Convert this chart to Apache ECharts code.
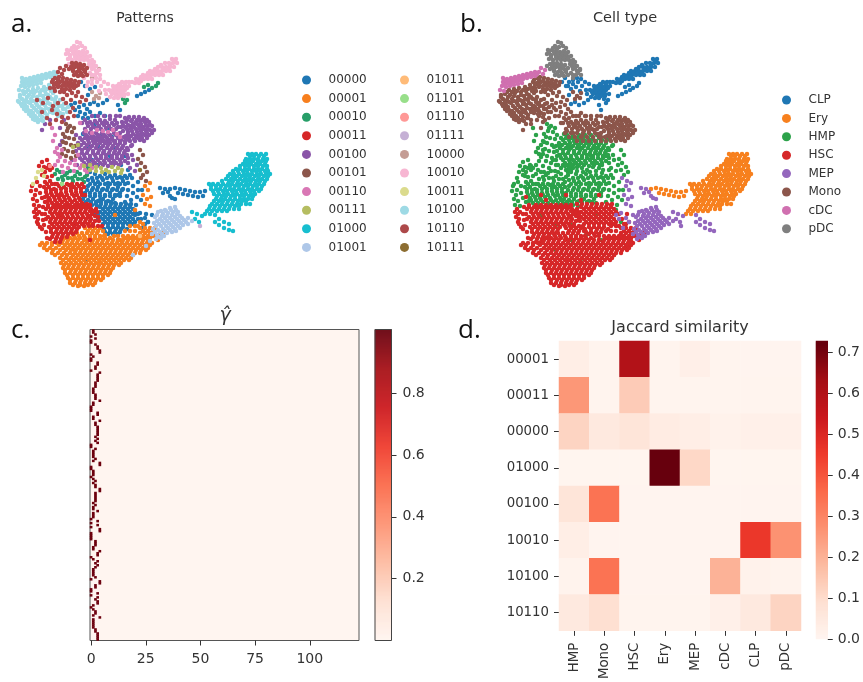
<!DOCTYPE html>
<html><head><meta charset="utf-8">
<style>html,body{margin:0;padding:0;background:#fff;overflow:hidden}#c{width:863px;height:682px}</style>
<script src="https://cdn.jsdelivr.net/npm/echarts@6/dist/echarts.min.js"></script>
</head><body><div id="c"></div>
<script>
const patterns=['00000','00001','00010','00011','00100','00101','00110','00111','01000','01001','01011','01101','01110','01111','10000','10010','10011','10100','10110','10111'];
const patternColors=['#1f77b4','#f77f1e','#279e68','#d62728','#8a55a8','#8c564b','#d977b5','#b5bd61','#17becf','#aec7e8','#ffbb78','#98df8a','#ff9896','#c5b0d5','#c49c94','#f7b6d2','#dbdb8d','#9edae5','#ad494a','#8c6d31'];
const cellTypes=['CLP','Ery','HMP','HSC','MEP','Mono','cDC','pDC'];
const cellColors=['#1f77b4','#f7801e','#2ca24a','#d62728','#9467bd','#8c564b','#d070b0','#7f7f7f'];

// UMAP cloud: arrays are named <cell type>_<pattern>, flat x,y pairs
const pDC_10010=[77,42,80,43,74,46,78,47,82,46,85,48,67,50,71,50,75,51,79,52,83,51,87,52,66,54,70,55,74,54,78,56,82,56,86,56,90,56,68,59,72,60,76,59,80,60,84,60,88,60,92,60,69,64,89,64,93,64,96,66,92,69,96,71,99,70,90,73,95,75,100,75,72,48,76,49,68,52,73,52,77,53,81,54,85,54,70,57,75,57,79,58,83,58,87,58,90,62,94,62,91,66,94,68,97,73,92,75];
const pDC_10110=[72,63,76,63,80,64,84,65,66,66,71,67,75,67,79,68,83,69,87,68,73,71,77,72,81,73,85,72,74,75,78,76,83,76,87,75,74,65,78,66,82,67,85,70,69,69,73,69,79,70,76,74,81,75];
const pDC_10000=[93,65,99,69,92,78];
const cDC_10100=[22,78,26,79,30,78,34,77,38,76,42,75,46,74,50,73,54,72,22,82,26,83,30,82,34,81,38,80,42,79,46,78,50,77,54,76,21,86,25,87,29,86,33,85,37,84,41,83,19,90,23,91,24,80,28,81,32,80,36,79,40,78,44,77,48,76,52,75,24,85,28,84,32,84,36,82,40,81,56,74];
const cDC_10110=[60,68,64,70,58,72,62,74];
const Mono_10100=[28,90,33,89,38,88,44,87,49,85,20,95,24,94,29,95,34,93,40,92,45,91,18,101,22,99,26,100,31,99,37,97,43,96,48,95,53,93,21,104,25,105,30,103,36,103,41,101,47,100,52,99,56,97,24,109,28,110,34,108,39,107,45,105,50,104,55,102,60,100,29,114,33,113,38,112,44,110,49,109,54,107,59,106,64,104,33,119,37,118,42,117,47,115,53,113,58,111,63,109,68,107,38,122,43,121,58,116,63,114,67,112,26,92,31,92,36,91,42,90,47,89,52,88,20,97,27,97,33,96,40,95,46,94,51,91,19,102,24,102,28,102,33,101,39,100,44,99,50,97,55,100,22,106,27,107,32,106,37,105,42,104,48,103,57,104,26,111,31,111,36,110,41,109,46,108,52,107,57,109,62,106,31,116,35,116,40,115,45,113,50,112,55,110,60,113,65,109,35,120,40,120,46,118];
const Mono_10110=[55,78,59,77,63,78,67,79,71,80,75,81,79,82,52,82,56,83,60,82,64,84,68,84,72,85,76,86,50,88,54,88,58,87,62,89,66,89,70,90,37,100,43,103,48,98,53,106,58,103,63,99,67,95,72,93,76,96,42,112,47,118,52,110,57,114,62,117,66,103,71,100,73,108,53,80,58,80,62,81,66,82,70,82,74,83,78,85,54,85,58,85,62,86,66,86,70,87,74,88,55,91,60,92,64,92,78,92,82,97,80,102,86,100,70,112,74,116,68,118,62,122,56,120,50,124];
const Mono_10000=[92,92,96,96,100,93,94,99,99,98];
const Mono_00100=[125,118,129,117,134,117,139,117,144,118,122,122,126,122,131,121,136,122,140,121,145,122,149,122,121,127,125,127,130,126,134,127,139,126,143,127,147,126,152,126,123,131,128,132,132,131,137,132,141,131,146,131,150,130,154,130,126,136,131,136,136,136,140,135,145,135,149,135,130,141,135,141,140,140,144,141,85,120,90,122,95,121,100,120,105,121,110,119,115,120,88,126,93,127,99,126,104,125,109,126,114,125,118,127,45,124,50,120,60,128,64,120,42,130,127,120,132,120,137,120,142,120,147,120,123,125,128,125,133,124,137,124,141,124,146,125,150,125,127,129,131,129,136,129,140,129,144,129,148,129,128,134,133,134,138,134,143,134,147,133,152,133,129,138,134,139,138,138,142,138,147,138,82,123,87,123,92,124,97,123,102,123,107,123,112,123,117,123,85,129,91,129,96,128,101,129,106,128,111,129,116,129,84,133,90,133,96,133,102,133,108,133,114,133,120,133,88,137,94,137,100,137,106,137,118,137,124,137,96,141,102,141,108,141,114,141,120,141,125,141,92,116,98,116,104,116,110,116,116,116,120,116];
const Mono_00110=[80,123,86,131,92,133,97,130,103,131,108,132,113,130,117,134,120,137];
const Mono_00000=[71,105,75,103,79,107,84,105,75,110,80,112,87,109,78,116,83,118,95,124,107,129,101,136,112,137,85,114,90,112,95,116,88,118,100,113,105,116];
const HMP_00110=[52,128,55,135,53,141,57,148,55,152,60,157,65,161,58,161,70,163,75,165,80,168,62,166,55,165,68,168,74,171,85,170,58,154,62,150,75,160,78,155,82,165,87,172,92,168,63,172];
const HMP_00101=[66,124,70,126,67,131,72,132,65,137,69,138,74,139,66,143,71,145,64,149,68,151,73,152,66,156,71,158,140,150,143,155,138,159,141,163,145,167,147,172,143,175,68,128,74,128,63,134,63,142,75,146,62,154,76,156];
const HMP_00100=[80,138,85,138,91,138,96,138,102,138,107,138,112,138,118,138,78,143,84,143,89,143,94,143,100,143,105,143,110,143,115,143,120,143,125,143,79,148,85,148,90,148,96,148,101,148,107,148,112,148,117,148,122,148,127,148,82,153,87,153,93,153,98,153,103,153,109,153,114,153,119,153,124,153,80,158,85,158,90,158,96,158,101,158,106,158,112,158,117,158,122,158,128,158,84,163,89,163,95,163,100,163,105,163,111,163,116,163,121,163,133,160,137,165,82,140,88,140,93,141,99,140,104,141,110,140,115,141,121,140,81,145,87,145,92,146,97,145,103,146,108,145,113,146,118,145,123,146,82,150,88,150,93,151,99,150,104,151,110,150,115,151,120,150,125,151,79,155,84,155,90,156,95,155,101,156,106,155,112,156,117,155,122,156,127,155,82,160,88,160,93,161,98,160,104,161,109,160,114,161,120,160,125,161,86,165,92,165,97,166,103,165,108,166,113,165,119,165,76,135,86,135,92,135,98,135,104,135,110,135,116,135,60,145,72,160,76,151,77,165,62,141,128,163,132,155,128,150,131,146,126,140,132,145,130,168,135,171];
const HMP_00111=[73,147,78,145,84,166,90,165,96,167,101,168,106,170,112,167,118,168,122,170,90,170,96,171,102,172,109,172,115,171,121,173];
const HMP_10011=[38,172,42,170,36,178,33,184,44,176];
const HMP_00010=[55,174,60,172,65,175,70,171,75,176,80,174,85,177,58,179,63,180,68,178,73,181,78,179,84,182,88,168,57,170,62,177,67,173,72,178,77,172,82,179,87,175];
const HMP_00011=[42,162,47,160,39,166,44,167,49,165,32,186,36,190,31,191,35,195,40,193,33,199,37,201,42,198,34,205,39,206,45,172,50,170,47,177,52,176,45,182,50,181,55,184,44,187,49,187,54,189,59,186,64,187,69,185,74,187,79,186,84,187,46,192,51,193,56,192,61,193,66,192,71,191,76,192,81,192,49,198,54,197,59,198,64,197,69,198,74,196,79,198,52,203,57,203,62,202,67,203,72,202,77,203,60,215,75,225,90,240,46,189,51,190,56,190,61,189,66,189,71,188,76,189,81,189,47,195,52,195,57,195,62,195,67,195,72,194,77,195,82,195,50,200,55,200,60,200,65,200,70,200,75,200,80,200,47,184,52,184,57,184,62,184,67,184,72,184,77,184,82,184,47,168,52,168,42,175,37,182,40,186,45,202,48,201,82,203,87,204];
const HMP_00000=[83,134,95,140,88,146,98,146,104,151,110,156,92,160,98,165,115,148,121,165,125,156,128,170,90,172,95,174,100,176,105,174,110,176,115,175,120,177,125,176,130,175,88,180,93,181,98,182,103,180,108,183,113,181,118,183,123,181,128,183,88,186,93,188,98,187,103,189,108,187,113,189,118,187,123,189,85,193,90,193,95,194,100,193,105,195,110,193,115,195,120,193,83,199,88,200,93,199,98,201,103,199,108,201,113,199,115,203,92,205,97,206,92,178,97,178,102,178,107,178,112,178,117,178,122,178,127,178,132,178,90,184,95,184,100,184,105,184,110,184,115,184,120,184,125,184,87,190,92,190,97,190,102,190,107,190,112,190,117,190,122,190,85,196,90,196,95,196,100,196,105,196,110,196,115,196,120,196,86,202,91,202,96,202,101,202,106,202,111,202,128,190,133,186,138,182,127,196,133,193,138,190,125,202,131,200,137,197,142,190,136,205,141,200];
const HMP_00001=[100,262,120,240,75,250,90,225,115,215,140,222,135,210,105,235];
const MEP_01001=[165,210,170,208,175,207,158,212,163,214,168,213,173,212,178,212,155,217,160,219,165,218,170,218,175,217,180,216,154,223,159,224,164,223,169,223,174,222,179,221,184,220,188,218,153,229,158,230,163,229,168,228,173,227,178,226,183,225,188,224,192,221,157,235,162,234,167,233,172,232,176,231,152,234,156,239,161,238,161,211,166,211,171,210,176,210,157,215,162,216,167,216,172,215,177,214,157,221,162,221,167,221,172,220,177,219,182,218,156,226,161,226,166,226,171,225,176,224,181,223,186,222,155,232,160,232,165,231,170,230,175,229,180,228,159,237,164,236];
const MEP_01000=[192,212,197,214,202,216,195,219,199,222,215,222,219,225,224,228,229,230,233,231,219,219,224,222,229,224,215,215];
const MEP_00001=[145,186,150,183,148,190,143,195,147,199,151,197,145,204,150,206];
const MEP_00000=[152,215,148,222,145,218,160,188,165,189,163,193,168,192,172,198,170,196,175,199,135,215,140,213,138,219,142,228];
const MEP_00101=[141,178,146,181];
const Ery_01000=[248,154,252,154,256,154,261,154,266,154,246,159,250,159,254,159,258,159,263,159,267,159,243,164,247,164,251,164,256,164,260,164,265,164,236,169,240,169,245,169,249,169,254,169,258,169,262,169,267,169,230,174,234,174,239,174,244,174,248,174,252,174,257,174,261,174,266,174,270,174,226,179,231,179,235,179,240,179,245,179,249,179,253,179,258,179,262,179,267,179,209,184,213,184,218,184,223,184,228,184,232,184,237,184,241,184,246,184,250,184,255,184,259,184,264,184,211,189,216,189,220,189,225,189,230,189,234,189,239,189,243,189,248,189,252,189,257,189,261,189,214,194,219,194,224,194,228,194,233,194,237,194,242,194,246,194,251,194,255,194,216,199,221,199,225,199,230,199,235,199,240,199,244,199,248,199,252,199,212,204,217,204,222,204,227,204,232,204,237,204,241,204,246,204,250,204,209,209,214,209,219,209,224,209,229,209,234,209,239,209,205,214,210,214,250,156,254,156,259,156,264,156,245,161,249,161,253,161,258,161,262,161,266,161,240,166,245,166,249,166,254,166,258,166,263,166,267,166,233,171,238,171,243,171,247,171,252,171,256,171,260,171,265,171,268,171,228,176,233,176,237,176,242,176,246,176,250,176,255,176,259,176,264,176,268,176,222,181,229,181,233,181,238,181,243,181,247,181,251,181,256,181,260,181,265,181,211,186,216,186,221,186,226,186,230,186,235,186,239,186,244,186,248,186,253,186,257,186,262,186,213,191,218,191,223,191,227,191,232,191,236,191,241,191,245,191,250,191,254,191,259,191,217,196,222,196,226,196,231,196,235,196,240,196,244,196,249,196,253,196,214,201,219,201,223,201,228,201,233,201,238,201,242,201,246,201,210,206,215,206,220,206,225,206,230,206,235,206,239,206,207,211,212,211,217,211,222,211,227,211];
const Ery_00000=[170,189,175,188,180,189,185,190,190,191,195,192,200,192,205,191,178,193,183,194,188,195,193,196,198,197,203,196];
const CLP_10010=[172,59,176,59,165,63,169,63,173,63,177,63,158,67,162,67,166,67,170,67,174,67,150,71,154,71,158,71,162,71,166,71,170,71,143,75,147,75,151,75,155,75,159,75,163,75,136,79,140,79,144,79,148,79,152,79,135,83,139,83,122,82,126,82,129,82,132,82,113,86,117,86,121,86,125,86,129,86,109,90,113,90,117,90,121,90,125,90,112,94,116,94,120,94,124,94,128,94,114,98,118,98,84,78,88,82,92,84,97,82,101,86,105,90,99,91,174,61,170,65,167,69,163,69,160,73,156,73,152,73,148,73,145,77,149,77,141,77,137,81,141,81,125,84,119,84,115,88,119,88,123,88,127,88,111,92,115,92,119,92,123,92,116,96,120,96,124,96,155,69,161,65,108,84,104,82,100,79,96,78,92,80,87,86,106,94,110,97];
const CLP_00010=[144,87,148,85,152,88,156,86,158,83,123,99,127,100,125,103];
const CLP_00000=[137,96,141,94,145,92,149,90,118,105,120,110,90,104,94,102,98,105,103,103,107,100,85,86,90,89,95,87,81,82,88,95];
const HSC_00011=[43,207,48,207,53,207,58,207,63,207,68,207,73,207,78,207,83,207,88,207,34,212,39,212,50,212,55,212,60,212,65,212,70,212,75,212,80,212,85,212,35,217,48,217,53,217,58,217,63,217,68,217,73,217,78,217,83,217,88,217,37,222,50,222,55,222,60,222,65,222,70,222,75,222,80,222,85,222,40,227,49,227,54,227,59,227,64,227,69,227,74,227,79,227,51,232,56,232,61,232,66,232,71,232,76,232,52,237,57,237,62,237,67,237,55,242,60,242,60,195,65,200,45,197,85,195,48,205,36,209,46,209,51,209,56,209,61,209,66,209,71,209,76,209,81,209,86,209,91,209,96,209,37,214,45,214,52,214,57,214,62,214,67,214,72,214,77,214,82,214,87,214,92,214,38,219,46,219,51,219,56,219,61,219,66,219,71,219,76,219,81,219,86,219,91,219,38,224,52,224,57,224,62,224,67,224,72,224,77,224,82,224,88,224,93,224,42,229,51,229,57,229,62,229,67,229,72,229,77,229,53,234,58,234,63,234,68,234,73,234,50,239,56,239,61,239,55,205,60,205,65,205,70,205,75,205,80,205,85,205,90,205,90,211,94,211,97,212,90,216,95,216,98,217,90,221,95,221,99,221,84,226,89,226,93,226,98,226,102,226,42,214,43,220,44,225,46,232,47,238];
const HSC_00001=[85,228,90,228,95,228,100,228,140,228,145,228,150,228,155,228,72,233,77,233,82,233,87,233,92,233,97,233,140,233,145,233,150,233,155,233,65,238,70,238,75,238,80,238,85,238,90,238,95,238,100,238,105,238,110,238,125,238,130,238,135,238,140,238,145,238,150,238,42,243,47,243,62,243,67,243,72,243,77,243,82,243,87,243,92,243,97,243,102,243,107,243,112,243,117,243,122,243,127,243,132,243,137,243,142,243,147,243,152,243,44,248,50,248,56,248,63,248,68,248,73,248,78,248,83,248,88,248,93,248,98,248,103,248,108,248,113,248,118,248,123,248,128,248,133,248,138,248,143,248,148,248,52,253,58,253,64,253,70,253,75,253,80,253,85,253,90,253,95,253,100,253,105,253,110,253,115,253,120,253,125,253,130,253,135,253,140,253,60,258,66,258,71,258,76,258,81,258,86,258,91,258,96,258,101,258,106,258,111,258,116,258,121,258,126,258,131,258,61,263,66,263,71,263,76,263,81,263,86,263,91,263,96,263,101,263,106,263,111,263,116,263,121,263,63,268,68,268,73,268,78,268,83,268,88,268,93,268,98,268,103,268,108,268,113,268,65,273,70,273,75,273,80,273,85,273,90,273,95,273,100,273,105,273,110,273,68,278,73,278,78,278,83,278,88,278,93,278,98,278,103,278,70,283,75,283,80,283,85,283,90,283,95,283,78,286,84,286,88,231,93,231,98,231,143,231,148,231,153,231,68,236,74,236,79,236,84,236,90,236,95,236,100,236,104,236,128,236,133,236,138,236,143,236,148,236,153,236,158,236,63,240,68,240,73,240,78,240,84,240,88,240,93,240,98,240,103,240,108,240,113,240,118,240,123,240,128,240,133,240,138,240,143,240,148,240,40,245,45,245,52,245,59,245,65,245,70,245,75,245,80,245,85,245,90,245,95,245,100,245,105,245,110,245,115,245,120,245,125,245,130,245,135,245,140,245,145,245,150,245,47,250,53,250,60,250,66,250,71,250,76,250,81,250,86,250,91,250,96,250,101,250,106,250,111,250,116,250,121,250,126,250,131,250,136,250,141,250,146,250,55,255,62,255,67,255,73,255,78,255,83,255,88,255,93,255,98,255,103,255,108,255,113,255,118,255,123,255,128,255,133,255,63,260,69,260,74,260,79,260,84,260,89,260,94,260,99,260,104,260,109,260,114,260,119,260,124,260,129,260,64,265,69,265,74,265,79,265,84,265,89,265,94,265,99,265,104,265,109,265,114,265,119,265,65,270,71,270,76,270,81,270,86,270,91,270,96,270,101,270,106,270,111,270,67,275,73,275,78,275,83,275,88,275,93,275,98,275,103,275,108,275,70,280,76,280,81,280,86,280,91,280,96,280,101,280,73,285,80,285,88,285,93,285,138,226,143,224,155,236,160,234,164,232,158,240,125,231,130,231,135,231,103,231,130,226,135,226,52,243,57,243,114,236,118,236,123,236];
const HSC_00000=[100,207,105,207,110,207,115,207,120,207,125,207,130,207,95,212,100,212,105,212,110,212,115,212,120,212,125,212,130,212,135,212,100,217,105,217,110,217,115,217,120,217,125,217,130,217,105,222,110,222,115,222,120,222,125,222,130,222,135,222,148,222,108,227,113,227,118,227,123,227,105,232,110,232,115,232,120,232,118,240,122,242,87,260,100,200,118,195,130,205,103,209,108,209,113,209,118,209,123,209,128,209,133,209,98,214,103,214,108,214,113,214,118,214,123,214,128,214,133,214,138,214,146,214,98,219,103,219,108,219,113,219,118,219,123,219,128,219,133,219,141,219,103,224,108,224,113,224,118,224,123,224,128,224,133,224,145,224,104,229,110,229,116,229,121,229,127,229,108,234,113,234,118,234,96,204,101,204,106,204,111,204,116,204,121,204,126,204,131,204];
const HSC_01001=[150,241,146,246,133,255];
const HSC_01011=[140,236];
const HMP_01101=[62,184];
const HMP_01110=[50,166];
const MEP_01111=[200,226];
const HMP_10111=[140,170];
const cloud={pDC_10010,pDC_10110,pDC_10000,cDC_10100,cDC_10110,Mono_10100,Mono_10110,Mono_10000,Mono_00100,Mono_00110,Mono_00000,HMP_00110,HMP_00101,HMP_00100,HMP_00111,HMP_10011,HMP_00010,HMP_00011,HMP_00000,HMP_00001,MEP_01001,MEP_01000,MEP_00001,MEP_00000,MEP_00101,Ery_01000,Ery_00000,CLP_10010,CLP_00010,CLP_00000,HSC_00011,HSC_00001,HSC_00000,HSC_01001,HSC_01011,HMP_01101,HMP_01110,MEP_01111,HMP_10111};

// c. gamma-hat: dark column in each row (one-hot), read top to bottom
const gammaCols=[1,1,2,0,2,0,0,2,3,3,4,4,0,1,0,0,3,3,2,2,0,4,3,3,3,3,2,2,2,1,1,1,2,2,2,4,1,1,0,0,0,3,3,1,1,4,2,2,3,3,3,3,3,2,3,2,3,0,0,2,1,1,1,1,2,1,4,4,0,0,1,1,1,0,1,2,1,2,2,4,4,2,2,2,2,2,1,2,1,1,3,1,1,1,0,3,0,3,0,4,4,0,0,0,0,2,2,2,1,1,4,3,3,0,1,3,2,3,2,1,1,1,1,2,0,4,4,2,2,0,0,3,0,3,2,3,3,1,0,1,2,2,1,4,1,1,1,1,1,2,2,3,3,3,3];
const gammaColumnCount=123;
const gammaTicks=[0,25,50,75,100];
const gammaBarTicks=[0.2,0.4,0.6,0.8];

// d. Jaccard similarity
const jaccardRows=['00001','00011','00000','01000','00100','10010','10100','10110'];
const jaccardCols=['HMP','Mono','HSC','Ery','MEP','cDC','CLP','pDC'];
const jaccard00001=[.03,.005,.6,.005,.025,.005,.003,.003];
const jaccard00011=[.26,.005,.14,.005,.005,.005,.005,.005];
const jaccard00000=[.12,.05,.07,.04,.03,.015,.02,.02];
const jaccard01000=[.002,.002,.002,.72,.11,.002,.002,.002];
const jaccard00100=[.07,.34,.004,.003,.003,.003,.003,.003];
const jaccard10010=[.03,.003,.003,.003,.003,.003,.46,.27];
const jaccard10100=[.01,.34,.004,.003,.003,.2,.015,.01];
const jaccard10110=[.05,.09,.005,.005,.005,.02,.05,.12];
const jaccardValues=[jaccard00001,jaccard00011,jaccard00000,jaccard01000,jaccard00100,jaccard10010,jaccard10100,jaccard10110];
const jaccardBarTicks=[0,0.1,0.2,0.3,0.4,0.5,0.6,0.7];

const reds=['#fff5f0','#fee0d2','#fcbba1','#fc9272','#fb6a4a','#ef3b2c','#cb181d','#a50f15','#67000d'];
const ink='#333', mono='DejaVu Sans';

const byType={},byPattern={};
cellTypes.forEach(t=>byType[t]=[]);patterns.forEach(p=>byPattern[p]=[]);
Object.keys(cloud).forEach(k=>{const [t,p]=k.split('_'),a=cloud[k];
  for(let i=0;i<a.length;i+=2){byType[t].push([a[i],a[i+1]]);byPattern[p].push([a[i],a[i+1]]);}});

const hiddenAxis=(g,min,max,inv)=>({gridIndex:g,type:'value',min,max,inverse:!!inv,show:false});
const label={color:ink,fontFamily:mono,fontSize:14};
const series=[];
patterns.forEach((p,i)=>series.push({name:p,type:'scatter',xAxisIndex:0,yAxisIndex:0,symbolSize:4.5,silent:true,itemStyle:{color:patternColors[i],opacity:1},data:byPattern[p]}));
cellTypes.forEach((t,i)=>series.push({name:t,type:'scatter',xAxisIndex:1,yAxisIndex:1,symbolSize:4.5,silent:true,itemStyle:{color:cellColors[i],opacity:1},data:byType[t]}));

const gammaSeriesIndex=series.length;
series.push({type:'heatmap',xAxisIndex:2,yAxisIndex:2,silent:true,data:gammaCols.map((c,r)=>[c,r,0.99])});
const gammaLevels=[];for(let i=0;i<311;i++)gammaLevels.push(i);
const jacLevels=[];for(let i=0;i<149;i++)jacLevels.push(i);
series.push({type:'heatmap',xAxisIndex:3,yAxisIndex:3,silent:true,data:gammaLevels.map(i=>[0,i,(i+.5)/311])});
const jacIdx=series.length;
const jacData=[];jaccardValues.forEach((row,r)=>row.forEach((v,c)=>jacData.push([c,r,v])));
series.push({type:'heatmap',xAxisIndex:4,yAxisIndex:5,silent:true,data:jacData});
series.push({type:'heatmap',xAxisIndex:5,yAxisIndex:6,silent:true,data:jacLevels.map(i=>[0,i,(i+.5)/149*0.727])});

const txt=(text,x,y,size,align,family,extra)=>({text,left:x,top:y,padding:0,textAlign:align,textStyle:Object.assign({color:ink,fontFamily:family||mono,fontSize:size,fontWeight:'normal'},extra||{})});

const legendBase={orient:'vertical',icon:'circle',itemWidth:34,itemHeight:9,selectedMode:false,padding:0,textStyle:{color:ink,fontFamily:mono,fontSize:12}};
const option={animation:false,backgroundColor:'#fff',
 title:[txt('a.',11,12,26,'left','Open Sans',{color:'#111'}),txt('b.',460,12,26,'left','Open Sans',{color:'#111'}),
  txt('c.',11,318,26,'left','Open Sans',{color:'#111'}),txt('d.',458,318,26,'left','Open Sans',{color:'#111'}),
  txt('Patterns',145,11,14,'center'),txt('Cell type',625,11,14.5,'center'),
  txt('γ̂',225,307,19,'center','DejaVu Sans',{fontStyle:'italic'}),txt('Jaccard similarity',680,320,16,'center')],
 legend:[Object.assign({},legendBase,{left:302,top:74,itemGap:6.6,data:patterns.slice(0,10)}),
  Object.assign({},legendBase,{left:400,top:74,itemGap:6.6,data:patterns.slice(10)}),
  Object.assign({},legendBase,{left:782,top:94,itemGap:6.4,data:cellTypes})],
 grid:[{left:15,top:35,width:260,height:260},{left:496,top:35,width:260,height:260},
  {left:90,top:329.5,width:269,height:311,show:true,backgroundColor:'#fff5f0',borderColor:'#555',borderWidth:1},
  {left:375,top:329.5,width:16.5,height:311,show:true,backgroundColor:'transparent',borderColor:'#444',borderWidth:1,z:5},
  {left:559,top:341,width:242,height:298},{left:816,top:341,width:15,height:298}],
 xAxis:[hiddenAxis(0,15,275),hiddenAxis(1,15,275),
  {gridIndex:2,type:'category',data:Array.from({length:gammaColumnCount},(_,i)=>String(i)),boundaryGap:true,
   axisLine:{show:false},axisTick:{show:true,alignWithLabel:true,length:5,lineStyle:{color:ink},customValues:gammaTicks},
   axisLabel:Object.assign({},label,{customValues:gammaTicks,margin:12}),splitLine:{show:false}},
  {gridIndex:3,type:'category',data:['c'],show:false},
  {gridIndex:4,type:'category',data:jaccardCols,position:'bottom',axisLine:{show:false},axisTick:{show:true,alignWithLabel:true,length:5,lineStyle:{color:ink}},
   axisLabel:Object.assign({},label,{fontSize:13.3,rotate:90,interval:0,margin:12}),splitLine:{show:false}},
  {gridIndex:5,type:'category',data:['c'],show:false}],
 yAxis:[hiddenAxis(0,35,295,true),hiddenAxis(1,35,295,true),
  {gridIndex:2,type:'category',inverse:true,data:gammaCols.map((_,i)=>String(i)),show:false},
  {gridIndex:3,type:'category',data:gammaLevels.map(String),show:false},
  {gridIndex:3,type:'value',position:'right',min:0,max:1.006,axisLine:{show:false},splitLine:{show:false},
   axisTick:{show:true,length:5,lineStyle:{color:ink},customValues:gammaBarTicks},
   axisLabel:Object.assign({},label,{customValues:gammaBarTicks,margin:11,formatter:v=>v.toFixed(1)})},
  {gridIndex:4,type:'category',inverse:true,data:jaccardRows,axisLine:{show:false},axisTick:{show:true,alignWithLabel:true,length:5,lineStyle:{color:ink}},
   axisLabel:Object.assign({},label,{fontSize:13.3,interval:0,margin:10}),splitLine:{show:false}},
  {gridIndex:5,type:'category',data:jacLevels.map(String),show:false},
  {gridIndex:5,type:'value',position:'right',min:0,max:0.727,axisLine:{show:false},splitLine:{show:false},
   axisTick:{show:true,length:5,lineStyle:{color:ink},customValues:jaccardBarTicks},
   axisLabel:Object.assign({},label,{customValues:jaccardBarTicks,margin:10,formatter:v=>v.toFixed(1)})}],
 visualMap:[{show:false,type:'continuous',min:0,max:1,dimension:2,seriesIndex:[gammaSeriesIndex,gammaSeriesIndex+1],inRange:{color:reds}},
  {show:false,type:'continuous',min:0,max:0.72,dimension:2,seriesIndex:[jacIdx,jacIdx+1],inRange:{color:reds}}],
 series};
const chart=echarts.init(document.getElementById('c'),null,{renderer:'canvas'});
chart.setOption(option);
</script></body></html>
